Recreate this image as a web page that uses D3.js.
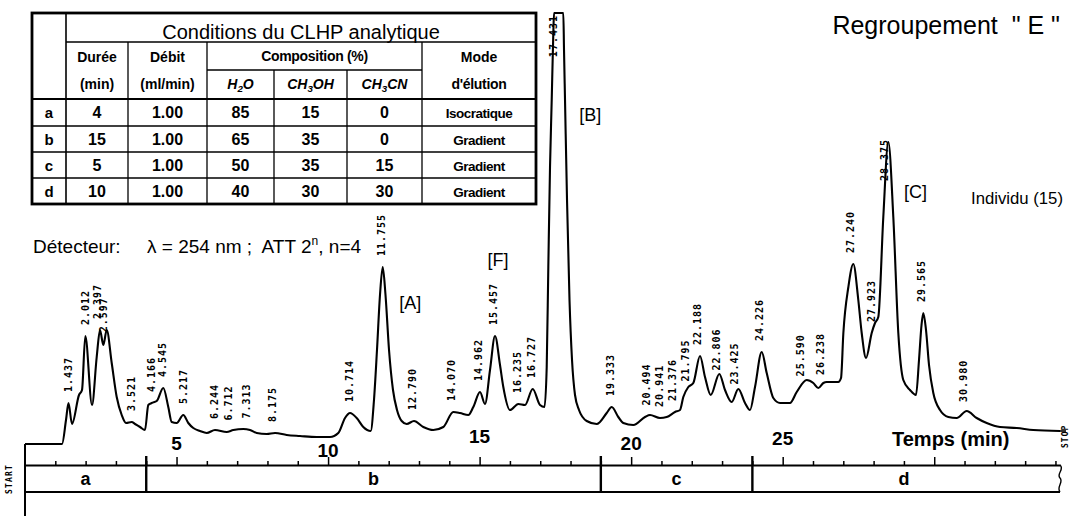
<!DOCTYPE html>
<html lang="fr">
<head>
<meta charset="utf-8">
<title>Regroupement "E" – chromatogramme CLHP</title>
<script src="https://cdn.jsdelivr.net/npm/d3@7/dist/d3.min.js"></script>
<style>
  html, body { margin: 0; padding: 0; background: #fff; }
  svg { display: block; }
  text { font-family: "Liberation Sans", Arial, Helvetica, sans-serif; fill: #000; white-space: pre; }
  .mono { font-family: "DejaVu Sans Mono", "Liberation Mono", monospace; font-weight: bold; }
</style>
</head>
<body>
<svg id="chart" width="1069" height="516"></svg>
<script>
// ---------- data ----------
// Detector trace: [retention time (min), signal (arbitrary units above baseline)]
const trace = [
  [0,0],[1.221,0],[1.353,24],[1.435,41],[1.551,20],[1.782,49],[1.881,54],[1.990,108],[2.211,39],
  [2.366,87],[2.475,114],[2.584,99],[2.696,114],[2.861,81],[3.026,47],[3.191,29],[3.333,21],
  [3.521,22],[3.630,20],[3.795,17],[3.959,14],[4.068,39],[4.181,41],[4.346,43],[4.563,56],
  [4.728,37],[4.840,22],[5.005,21],[5.223,29],[5.388,21],[5.553,16],[5.774,13],[5.995,11],
  [6.269,14],[6.655,12],[6.873,14],[7.203,15],[7.424,14],[7.645,11],[7.975,10],[8.249,11],
  [8.635,9],[9.074,8],[9.625,7],[10.064,7],[10.337,11],[10.559,26],[10.724,31],[10.945,26],
  [11.162,17],[11.406,13],[11.515,44],[11.614,94],[11.713,149],[11.803,177],[11.895,149],
  [12.011,94],[12.142,54],[12.274,34],[12.429,23],[12.594,20],[12.835,23],[13.142,17],
  [13.472,14],[13.802,17],[14.132,32],[14.353,31],[14.627,29],[14.792,37],[15.013,52],
  [15.178,40],[15.343,74],[15.508,108],[15.673,79],[15.782,57],[16.003,34],[16.277,40],
  [16.498,39],[16.752,55],[16.993,39],[17.141,37],[17.214,77],[17.267,177],[17.323,277],
  [17.379,344],[17.432,411],[17.455,431],[17.762,431],[17.785,394],[17.818,344],[17.884,244],
  [17.966,144],[18.049,84],[18.148,49],[18.279,34],[18.534,23],[18.864,20],[19.193,31],
  [19.359,37],[19.576,27],[19.741,21],[20.071,19],[20.457,27],[20.622,29],[20.952,26],
  [21.173,27],[21.447,32],[21.612,34],[21.721,47],[21.886,57],[22.051,61],[22.272,88],
  [22.437,67],[22.625,49],[22.909,70],[23.097,54],[23.318,42],[23.536,55],[23.757,41],
  [23.922,34],[24.087,57],[24.308,92],[24.473,71],[24.691,46],[24.912,41],[25.242,41],
  [25.463,52],[25.793,64],[26.011,61],[26.176,56],[26.341,61],[26.453,62],[26.836,62],
  [26.925,66],[27.002,111],[27.167,157],[27.330,180],[27.495,144],[27.607,111],[27.750,86],
  [27.937,111],[28.046,121],[28.155,127],[28.320,227],[28.485,302],[28.650,227],[28.815,111],
  [28.980,64],[29.201,54],[29.399,49],[29.498,84],[29.581,119],[29.640,131],[29.729,114],
  [29.828,79],[29.970,51],[30.191,34],[30.465,27],[30.741,26],[31.071,33],[31.401,26],
  [31.731,21],[32.171,17],[32.722,16],[33.270,14],[34.150,13]
];

// Retention times printed by the integrator above each peak (min)
const peakTimes = [
  1.437, 2.012, 2.397, 2.597, 3.521, 4.166, 4.545, 5.217, 6.244, 6.712, 7.313, 8.175,
  10.714, 11.755, 12.790, 14.070, 14.962, 15.457, 16.235, 16.727, 17.431,
  19.333, 20.494, 20.941, 21.376, 21.795, 22.188, 22.806, 23.425, 24.226, 25.590, 26.238,
  27.240, 27.923, 28.375, 29.565, 30.980
];

// Named compounds and the peak each one belongs to
const compoundNames = ["[A]", "[F]", "[B]", "[C]"];
const compoundTimes = [11.755, 15.457, 17.431, 28.375];

// Elution programme
const stepNames = ["a", "b", "c", "d"];
const stepDurations = [4, 15, 5, 10];
const stepFlow = ["1.00", "1.00", "1.00", "1.00"];
const stepWater = [85, 65, 50, 40];
const stepMethanol = [15, 35, 35, 30];
const stepAcetonitrile = [0, 0, 15, 30];
const stepMode = ["Isocratique", "Gradient", "Gradient", "Gradient"];

// Time axis
const axisLabels = [5, 10, 15, 20, 25];
const runEnd = 34.15;
const signalMax = 431;

// ---------- drawing ----------
const svg = d3.select("#chart");
const x = d3.scaleLinear().domain([0, runEnd]).range([25, 1060]);
const y = d3.scaleLinear().domain([0, signalMax]).range([444, 13]);

// trace
const line = d3.line().x(d => x(d[0])).y(d => y(d[1])).curve(d3.curveMonotoneX);
svg.append("path")
  .datum(trace)
  .attr("d", line)
  .attr("fill", "none")
  .attr("stroke", "#000")
  .attr("stroke-width", 2.1)
  .attr("stroke-linejoin", "round");

// start marker line
svg.append("line")
  .attr("x1", x(0)).attr("x2", x(0))
  .attr("y1", y(0)).attr("y2", 516)
  .attr("stroke", "#000").attr("stroke-width", 2);

// stop marker tail
const last = trace[trace.length - 1];
svg.append("line")
  .attr("x1", x(last[0])).attr("x2", x(last[0]) + 6)
  .attr("y1", y(last[1])).attr("y2", y(last[1]))
  .attr("stroke", "#000").attr("stroke-width", 1.6);

// signal at a given time (highest sample near that time)
const bis = d3.bisector(d => d[0]).left;
function signalAt(t) {
  const i = Math.max(1, Math.min(trace.length - 1, bis(trace, t)));
  const a = trace[i - 1], b = trace[i];
  let v = a[1] + (b[1] - a[1]) * (t - a[0]) / (b[0] - a[0]);
  trace.forEach(p => { if (Math.abs(p[0] - t) < 0.09) v = Math.max(v, p[1]); });
  return v;
}

// retention-time labels
const fmt = d3.format(".3f");
const labels = svg.append("g").attr("class", "peak-labels");
peakTimes.forEach(t => {
  const v = signalAt(t);
  const offScale = v >= signalMax;
  const g = labels.append("g")
    .attr("transform", offScale
      ? `translate(${x(t)},${y(signalMax) + 2}) rotate(-90)`
      : `translate(${x(t)},${y(v) - 11}) rotate(-90)`);
  g.append("text")
    .attr("class", "mono")
    .attr("text-anchor", offScale ? "end" : "start")
    .attr("dy", "0.35em")
    .attr("font-size", 10)
    .attr("letter-spacing", 1)
    .text(fmt(t));
});

// compound tags: horizontal offset from the peak, baseline height
const tagDx = [18, -6, 26, 19];
const tagBaseline = [309, 266, 121, 198];
compoundNames.forEach((name, i) => {
  svg.append("text")
    .attr("x", x(compoundTimes[i]) + tagDx[i])
    .attr("y", tagBaseline[i])
    .attr("font-size", 18)
    .text(name);
});

// time axis on top of the programme bar
const barTop = 465, barBottom = 492;
const boundaries = d3.cumsum(stepDurations);
const axis = d3.axisTop(x)
  .tickValues(d3.range(1, Math.floor(runEnd) + 1))
  .tickSize(4).tickSizeOuter(0).tickFormat("");
const axG = svg.append("g").attr("transform", `translate(0,${barTop})`).call(axis);
axG.select(".domain").attr("stroke", "#000").attr("stroke-width", 1.8);
axG.selectAll(".tick line")
  .attr("stroke", "#000").attr("stroke-width", 1.5)
  .attr("y2", d => d % 5 === 0 ? -8 : -4);

// axis numbers (printed at staggered heights)
const labelBaselines = [450, 457, 443, 450, 445];
axisLabels.forEach((t, i) => {
  svg.append("text")
    .attr("x", x(t)).attr("y", labelBaselines[i])
    .attr("text-anchor", "middle")
    .attr("font-size", 19).attr("font-weight", "bold")
    .text(t);
});
svg.append("text")
  .attr("x", 892).attr("y", 446)
  .attr("font-size", 20).attr("font-weight", "bold")
  .text("Temps (min)");

// programme bar
svg.append("line")
  .attr("x1", x(0)).attr("x2", x(runEnd))
  .attr("y1", barBottom).attr("y2", barBottom)
  .attr("stroke", "#000").attr("stroke-width", 1.8);
boundaries.slice(0, -1).forEach(b => {
  svg.append("line")
    .attr("x1", x(b)).attr("x2", x(b))
    .attr("y1", barTop - 9).attr("y2", barBottom)
    .attr("stroke", "#000").attr("stroke-width", 2.4);
});
const starts = [0, ...boundaries.slice(0, -1)];
stepNames.forEach((s, i) => {
  const xc = (x(starts[i]) + x(Math.min(boundaries[i], runEnd))) / 2;
  svg.append("text")
    .attr("x", xc).attr("y", 485)
    .attr("text-anchor", "middle")
    .attr("font-size", 18).attr("font-weight", "bold")
    .text(s);
});
// torn right edge of the bar
const xe = x(runEnd);
svg.append("path")
  .attr("d", `M${xe},${barTop} C${xe + 5},${barTop + 4} ${xe - 4},${barTop + 9} ${xe},${barTop + 13}
              C${xe + 4},${barTop + 17} ${xe - 4},${barTop + 22} ${xe},${barBottom}`)
  .attr("fill", "none").attr("stroke", "#000").attr("stroke-width", 1.4);

// START / STOP marks
svg.append("text").attr("class", "mono")
  .attr("transform", `translate(9,494) rotate(-90)`)
  .attr("dy", "0.35em").attr("font-size", 8).attr("letter-spacing", 1.2)
  .text("START");
svg.append("text").attr("class", "mono")
  .attr("transform", `translate(${xe + 5},448) rotate(-90)`)
  .attr("dy", "0.35em").attr("font-size", 8).attr("letter-spacing", 1)
  .text("STOP");

// titles
svg.append("text")
  .attr("x", 1060).attr("y", 34)
  .attr("text-anchor", "end")
  .attr("font-size", 25)
  .text('Regroupement  " E "');
svg.append("text")
  .attr("x", 971).attr("y", 204)
  .attr("font-size", 17)
  .attr("textLength", 92).attr("lengthAdjust", "spacingAndGlyphs")
  .text("Individu (15)");

const det = svg.append("g");
det.append("text").attr("x", 33).attr("y", 253).attr("font-size", 19).text("Détecteur:");
const detTxt = det.append("text").attr("x", 147).attr("y", 253).attr("font-size", 19);
detTxt.append("tspan").text("λ = 254 nm ;  ATT 2");
detTxt.append("tspan").attr("font-size", 12).attr("dy", -8).text("n");
detTxt.append("tspan").attr("dy", 8).text(", n=4");

// ---------- conditions table ----------
const tbl = svg.append("g").attr("class", "conditions");
const colX = [32, 66, 128, 207, 274, 347, 422, 536];
const rowY = [13, 42, 70, 99, 126, 152, 178, 204];
const hLines = [
  [colX[1], colX[7], rowY[1], 1.3],
  [colX[3], colX[6], rowY[2], 1.3],
  [colX[0], colX[7], rowY[3], 1.8],
  [colX[0], colX[7], rowY[4], 1.3],
  [colX[0], colX[7], rowY[5], 1.3],
  [colX[0], colX[7], rowY[6], 1.3]
];
const vLines = [
  [colX[1], rowY[0], rowY[7], 1.6],
  [colX[2], rowY[1], rowY[7], 1.3],
  [colX[3], rowY[1], rowY[7], 1.3],
  [colX[4], rowY[2], rowY[7], 1.3],
  [colX[5], rowY[2], rowY[7], 1.3],
  [colX[6], rowY[1], rowY[7], 1.3]
];
hLines.forEach(([x1, x2, yy, w]) => tbl.append("line")
  .attr("x1", x1).attr("x2", x2).attr("y1", yy).attr("y2", yy)
  .attr("stroke", "#000").attr("stroke-width", w));
vLines.forEach(([xx, y1, y2, w]) => tbl.append("line")
  .attr("x1", xx).attr("x2", xx).attr("y1", y1).attr("y2", y2)
  .attr("stroke", "#000").attr("stroke-width", w));
tbl.append("rect")
  .attr("x", colX[0]).attr("y", rowY[0])
  .attr("width", colX[7] - colX[0]).attr("height", rowY[7] - rowY[0])
  .attr("fill", "none").attr("stroke", "#000").attr("stroke-width", 2.8);

const mid = (a, b) => (a + b) / 2;
function cell(xc, yb, txt, size, opts = {}) {
  const t = tbl.append("text")
    .attr("x", xc).attr("y", yb)
    .attr("text-anchor", "middle")
    .attr("font-size", size)
    .attr("font-weight", opts.weight || "bold")
    .attr("font-style", opts.italic ? "italic" : "normal")
    .attr("letter-spacing", opts.ls || 0);
  if (Array.isArray(txt)) {
    txt.forEach(([s, sub]) => {
      const sp = t.append("tspan").text(s);
      if (sub) sp.attr("font-size", size * 0.7).attr("dy", 3);
      else if (t.node().childNodes.length > 1) sp.attr("dy", -3);
    });
  } else t.text(txt);
  return t;
}

cell(mid(colX[1], colX[7]), 39, "Conditions du CLHP analytique", 20, { weight: "normal" });
cell(mid(colX[1], colX[2]), 62, "Durée", 14);
cell(mid(colX[1], colX[2]), 89, "(min)", 14);
cell(mid(colX[2], colX[3]), 62, "Débit", 14);
cell(mid(colX[2], colX[3]), 89, "(ml/min)", 14);
cell(mid(colX[3], colX[6]), 61, "Composition (%)", 14, { ls: -0.3 });
cell(mid(colX[3], colX[4]), 89, [["H"], ["2", true], ["O"]], 14, { italic: true });
cell(mid(colX[4], colX[5]), 89, [["CH"], ["3", true], ["OH"]], 14, { italic: true });
cell(mid(colX[5], colX[6]), 89, [["CH"], ["3", true], ["CN"]], 14, { italic: true });
cell(mid(colX[6], colX[7]), 62, "Mode", 14);
cell(mid(colX[6], colX[7]), 89, "d'élution", 14, { ls: -0.3 });

stepNames.forEach((s, i) => {
  const yb = mid(rowY[3 + i], rowY[4 + i]) + 5.5;
  cell(mid(colX[0], colX[1]), yb, s, 15);
  cell(mid(colX[1], colX[2]), yb, String(stepDurations[i]), 16);
  cell(mid(colX[2], colX[3]), yb, stepFlow[i], 16);
  cell(mid(colX[3], colX[4]), yb, String(stepWater[i]), 16);
  cell(mid(colX[4], colX[5]), yb, String(stepMethanol[i]), 16);
  cell(mid(colX[5], colX[6]), yb, String(stepAcetonitrile[i]), 16);
  cell(mid(colX[6], colX[7]), yb, stepMode[i], 13.5, { ls: -0.5 });
});
</script>
</body>
</html>
